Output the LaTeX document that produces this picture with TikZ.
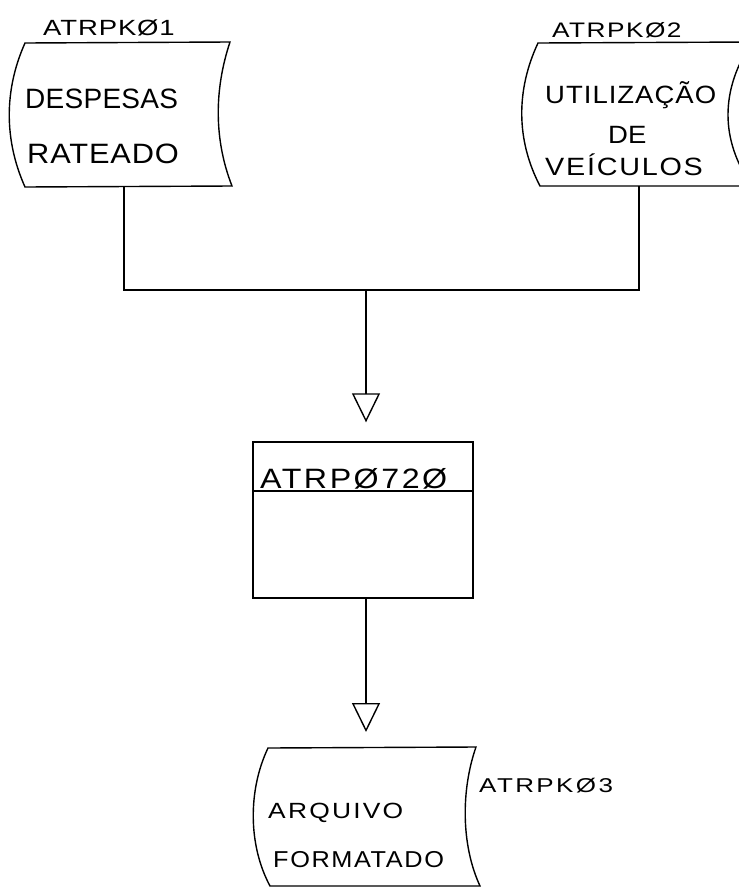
\documentclass[tikz,border=0pt]{standalone}
\usepackage{fontspec}
\setmainfont{Liberation Sans}
\usetikzlibrary{arrows.meta}
% size, horizontal stretch, letter space, text
\newcommand\hw[4]{{\addfontfeatures{FakeStretch=#2,LetterSpace=#3}\fontsize{#1}{#1}\selectfont #4}}
\begin{document}
\begin{tikzpicture}[x=1pt,y=-1pt,
  ln/.style={line width=1.4pt, black},
  flow/.style={ln, -{Triangle[open, length=29pt, width=28pt]}},
  txt/.style={anchor=base west, inner sep=0pt}]
\useasboundingbox (0,0) rectangle (739,889);
\clip (0,0) rectangle (739,889);
% tape 1
\draw[ln] (25,43) -- (230,42) .. controls (214,90) and (214,140) .. (232,186) -- (25,187) .. controls (4,140) and (4,90) .. cycle;
\node[txt] (l1) at (43,35) {\hw{22}{1.25}{4}{ATRPKØ1}};
\node[txt] (d1) at (25,108) {\hw{28}{1.0}{1}{DESPESAS}};
\node[txt] (d2) at (27,163) {\hw{28}{1.1}{3}{RATEADO}};
% tape 2
\draw[ln] (538,43) -- (752,42) .. controls (720,90) and (720,140) .. (752,186) -- (540,186) .. controls (516,140) and (516,90) .. cycle;
\node[txt] (l2) at (552,37) {\hw{21}{1.25}{7}{ATRPKØ2}};
\node[txt] (u1) at (545,103) {\hw{25}{1.1}{4}{UTILIZAÇÃO}};
\node[txt] (u2) at (608,143) {\hw{25}{1.1}{0}{DE}};
\node[txt] (u3) at (545,175) {\hw{25}{1.15}{7}{VEÍCULOS}};
% process box
\node[ln, draw, minimum width=220pt, minimum height=156pt, inner sep=0pt] (proc) at (363,520) {};
\coordinate (dl) at (253,491);
\coordinate (dr) at (473,491);
\draw[ln] (dl) -- (dr);
\node[txt] (pl) at (260,488) {\hw{28}{1.15}{9}{ATRPØ72Ø}};
% tape 3
\draw[ln] (268,748) -- (476,747) .. controls (461,790) and (461,845) .. (480,886) -- (270,886) .. controls (248,845) and (248,790) .. cycle;
\node[txt] (l3) at (479,792) {\hw{20}{1.3}{12}{ATRPKØ3}};
\node[txt] (a1) at (268,818) {\hw{22}{1.2}{10}{ARQUIVO}};
\node[txt] (a2) at (273,867) {\hw{23}{1.1}{7}{FORMATADO}};
% connectors
\coordinate (t1b) at (124,187);
\coordinate (t2b) at (639,186);
\coordinate (j1) at (124,290);
\coordinate (j2) at (639,290);
\coordinate (jm) at (366,290);
\coordinate (t3t) at (366,747);
\draw[ln] (t1b) -- (j1) -- (j2) -- (t2b);
\draw[flow, shorten >=19pt] (jm) -- (jm |- proc.north);
\draw[flow, shorten >=15pt] (jm |- proc.south) -- (t3t);
\end{tikzpicture}
\end{document}
